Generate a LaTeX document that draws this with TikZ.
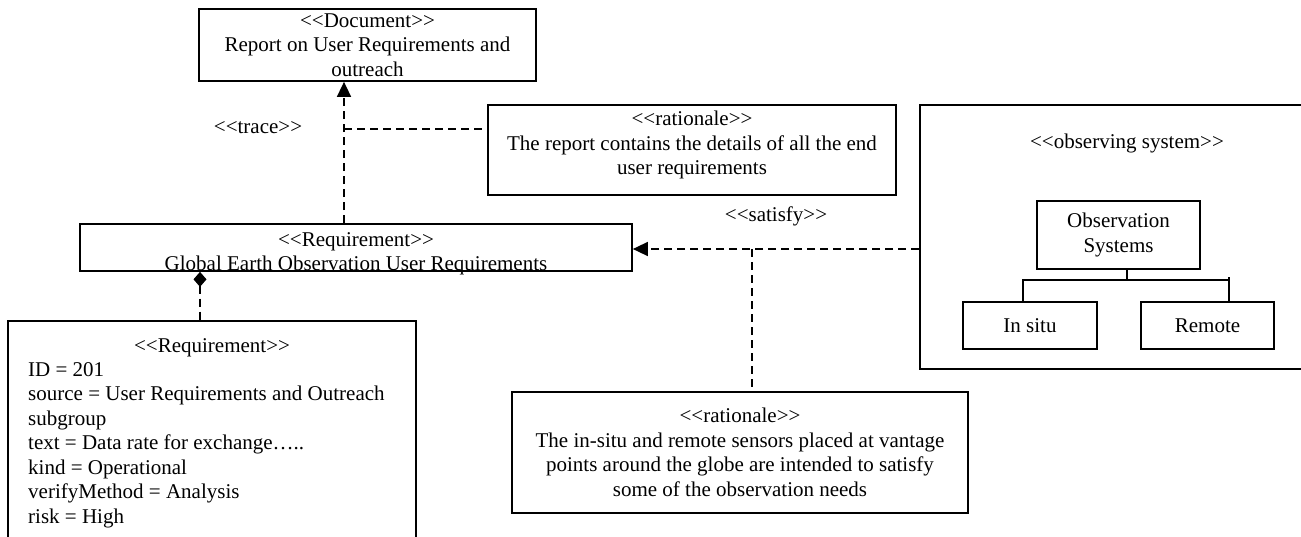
\documentclass[tikz,border=0pt]{standalone}
\usepackage{fontspec}
\setmainfont{Liberation Serif}
\usepackage{tikz}
\usetikzlibrary{arrows.meta}
\newcommand{\stereo}[1]{<{}<#1>{}>}

\begin{document}
\begin{tikzpicture}[x=1pt,y=-1pt,
		every node/.style={font=\fontsize{21}{24.5}\selectfont},
		box/.style={draw,line width=1.7pt,inner sep=0pt,align=center},
		txt/.style={inner sep=0pt,anchor=north,align=center},
		dline/.style={line width=1.5pt,dash pattern=on 8pt off 5pt},
		dep/.style={dline,-{Triangle[length=15pt,width=14pt]}},
		comp/.style={dline,{Diamond[length=15pt,width=13pt]}-},
		tree/.style={line width=1.6pt}]
		\useasboundingbox (0,0) rectangle (1301,536);
		\clip (0,0) rectangle (1301,536);
		%
		\node[box,minimum width=337pt,minimum height=72pt] (doc) at (367.5,45) {\stereo{Document}\\Report on User Requirements and\\outreach};
		\node[box,minimum width=408pt,minimum height=90pt] (rat1) at (692,150) {};
		\node[txt] (rat1txt) at (692,111) {\stereo{rationale}\\The report contains the details of all the end\\user requirements};
		\node[box,minimum width=552pt,minimum height=47pt] (req1) at (356,247.5) {};
		\node[txt] (req1txt) at (356,232) {\stereo{Requirement}\\Global Earth Observation User Requirements};
		\node[box,minimum width=408pt,minimum height=240pt] (req2) at (212,441) {};
		\node[txt] (req2head) at (212,338) {\stereo{Requirement}};
		\node[txt,anchor=north west,align=left] (req2body) at (28,362) {ID = 201\\source = User Requirements and Outreach\\subgroup\\text = Data rate for exchange…..\\kind = Operational\\verifyMethod = Analysis\\risk = High};
		\node[box,minimum width=456pt,minimum height=121pt] (rat2) at (740,452.5) {\stereo{rationale}\\The in-situ and remote sensors placed at vantage\\points around the globe are intended to satisfy\\some of the observation needs};
		%
		\node[box,minimum width=400pt,minimum height=264pt] (obs) at (1120,237) {};
		\node[anchor=base] (obstitle) at (1127,148) {\stereo{observing system}};
		\node[box,minimum width=163pt,minimum height=68pt] (obsys) at (1118.5,235) {Observation\\Systems};
		\node[box,minimum width=134pt,minimum height=47pt] (insitu) at (1030,325.5) {In situ};
		\node[box,minimum width=133pt,minimum height=47pt] (remote) at (1207.5,325.5) {Remote};
		%
		\node[anchor=base] (trace) at (258,133) {\stereo{trace}};
		\node[anchor=base] (satisfy) at (776,221) {\stereo{satisfy}};
		%
		\coordinate (tr) at (344,129);
		\coordinate (sj) at (752,249);
		\coordinate (cj) at (200,270);
		\draw[dep] (tr |- req1.north) -- (tr |- doc.south);
		\draw[dline] (tr) -- (tr -| rat1.west);
		\draw[dep] (obs.west |- sj) -- (req1.east |- sj);
		\draw[dline] (sj) -- (sj |- rat2.north);
		\draw[comp] (cj |- req1.south) -- (cj |- req2.north);
		%
		\coordinate (stem) at (1127,280);
		\coordinate (bl) at (1023,280);
		\coordinate (br) at (1229,280);
		\draw[tree] (stem |- obsys.south) -- (stem);
		\draw[tree] (bl |- insitu.north) -- (bl) -- (br);
		\draw[tree] ([yshift=3pt]br) -- (br |- remote.north);
\end{tikzpicture}
\end{document}
